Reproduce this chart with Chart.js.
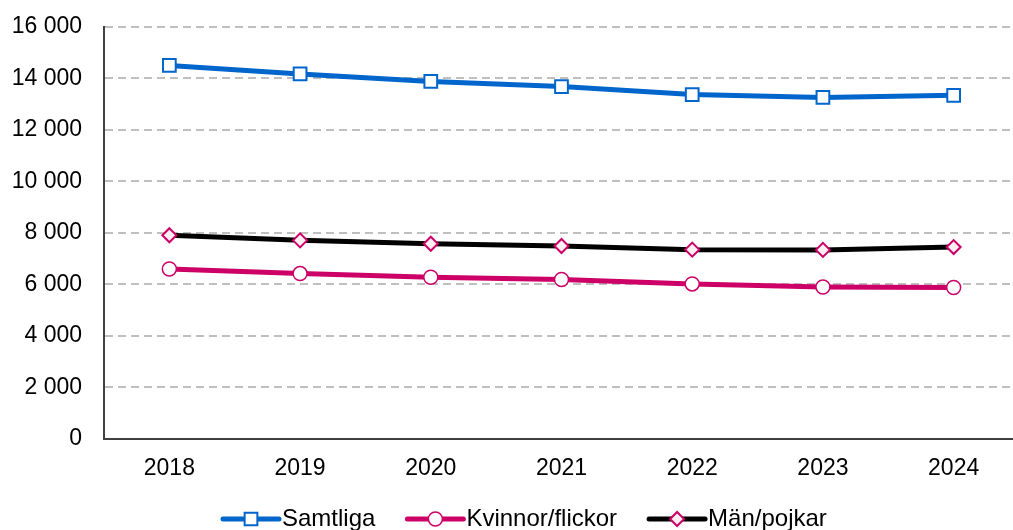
<!DOCTYPE html>
<html>
<head>
<meta charset="utf-8">
<script src="https://cdn.jsdelivr.net/npm/chart.js@4.4.1/dist/chart.umd.min.js"></script>
<style>
  html, body { margin: 0; padding: 0; background: #fff; overflow: hidden; }
  #wrap { width: 1030px; height: 539px; margin-top: -9px; }
</style>
</head>
<body>
<div id="wrap"><canvas id="chart"></canvas></div>
<script>
// Data
const years = ['2018', '2019', '2020', '2021', '2022', '2023', '2024'];
const samtliga = [14500, 14170, 13880, 13680, 13370, 13260, 13340];
const kvinnor = [6600, 6420, 6280, 6190, 6020, 5900, 5880];
const man = [7910, 7710, 7580, 7490, 7350, 7340, 7450];
const yTicks = [0, 2000, 4000, 6000, 8000, 10000, 12000, 14000, 16000];

const FONT = 'Liberation Sans, Arial, sans-serif';

// Legend with line + marker, like the original
const lineLegend = {
    id: 'lineLegend',
    afterDraw(chart) {
        const ctx = chart.ctx;
        const y = 528;
        let x = 223;
        ctx.save();
        ctx.font = '24px ' + FONT;
        ctx.textBaseline = 'middle';
        chart.data.datasets.forEach(ds => {
            ctx.strokeStyle = ds.borderColor;
            ctx.lineWidth = 5;
            ctx.lineCap = 'round';
            ctx.beginPath();
            ctx.moveTo(x, y);
            ctx.lineTo(x + 56, y);
            ctx.stroke();
            ctx.fillStyle = ds.pointBackgroundColor;
            ctx.strokeStyle = ds.pointBorderColor;
            ctx.lineWidth = ds.pointBorderWidth;
            Chart.helpers.drawPoint(ctx, {
                pointStyle: ds.pointStyle,
                radius: ds.pointRadius,
                borderWidth: ds.pointBorderWidth,
                rotation: 0
            }, x + 28, y);
            ctx.fillStyle = '#000';
            ctx.fillText(ds.label, x + 59, y);
            x += 59 + ctx.measureText(ds.label).width + 32;
        });
        ctx.restore();
    }
};

const ctx = document.getElementById('chart').getContext('2d');
new Chart(ctx, {
    type: 'line',
    data: {
        labels: years,
        datasets: [
            {
                label: 'Samtliga',
                data: samtliga,
                borderColor: '#0066CC',
                borderWidth: 5,
                pointStyle: 'rect',
                pointRadius: 9,
                pointBorderWidth: 2,
                pointBorderColor: '#0066CC',
                pointBackgroundColor: '#ffffff'
            },
            {
                label: 'Kvinnor/flickor',
                data: kvinnor,
                borderColor: '#CC0066',
                borderWidth: 5,
                pointStyle: 'circle',
                pointRadius: 7,
                pointBorderWidth: 1.5,
                pointBorderColor: '#CC0066',
                pointBackgroundColor: '#ffffff'
            },
            {
                label: 'Män/pojkar',
                data: man,
                borderColor: '#000000',
                borderWidth: 5,
                pointStyle: 'rectRot',
                pointRadius: 7,
                pointBorderWidth: 2,
                pointBorderColor: '#CC0066',
                pointBackgroundColor: '#fdeef4'
            }
        ]
    },
    options: {
        responsive: true,
        maintainAspectRatio: false,
        animation: false,
        layout: { padding: { top: 17, left: 0, right: 8, bottom: 0 } },
        plugins: {
            legend: { display: false },
            tooltip: { enabled: false }
        },
        scales: {
            x: {
                offset: true,
                grid: { display: false, drawTicks: false },
                border: { color: '#404040', width: 2 },
                ticks: { color: '#000', font: { family: FONT, size: 23 }, padding: 16 },
                afterFit: s => { s.height = 91; }
            },
            y: {
                min: 0,
                max: 16000,
                afterBuildTicks: s => { s.ticks = yTicks.map(v => ({ value: v })); },
                grid: { color: '#BFBFBF', lineWidth: 2, drawTicks: false },
                border: { color: '#404040', width: 2, dash: [8, 5] },
                ticks: {
                    color: '#000',
                    font: { family: FONT, size: 23 },
                    padding: 22,
                    callback: v => v.toLocaleString('sv-SE').replace(/\s/g, ' ')
                },
                afterFit: s => { s.width = 104; }
            }
        }
    },
    plugins: [lineLegend]
});
</script>
</body>
</html>
